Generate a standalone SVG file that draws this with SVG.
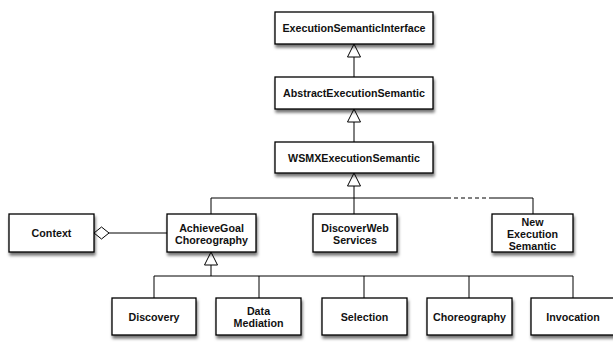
<svg xmlns="http://www.w3.org/2000/svg" width="613" height="342" viewBox="0 0 613 342">
  <defs>
    <filter id="shadow" x="-20%" y="-30%" width="140%" height="170%">
      <feDropShadow dx="1" dy="3" stdDeviation="1.8" flood-color="#000" flood-opacity="0.55"/>
    </filter>
  </defs>
  <style>
    .box { fill: #fff; stroke: #000; stroke-width: 1.3; filter: url(#shadow); }
    .lbl { font-family: "Liberation Sans", Arial, Helvetica, sans-serif; font-weight: bold; font-size: 10.7px; fill: #111; text-anchor: middle; }
    .edge { fill: none; stroke: #000; stroke-width: 1; }
    .dash { fill: none; stroke: #000; stroke-width: 1; stroke-dasharray: 4 3; }
    .head { fill: #fff; stroke: #000; stroke-width: 1; }
  </style>
  <rect width="613" height="342" fill="#fff"/>

  <g id="connectors">
    <!-- generalisation chain at the top -->
    <path class="edge" d="M354,77 V57"/>
    <path class="head" d="M354,44 L360.5,57 L347.5,57 Z"/>
    <path class="edge" d="M354,142 V122"/>
    <path class="head" d="M354,109 L360.5,122 L347.5,122 Z"/>
    <!-- WSMXExecutionSemantic subclasses -->
    <path class="edge" d="M354,198 V186"/>
    <path class="head" d="M354,173 L360.5,186 L347.5,186 Z"/>
    <path class="edge" d="M211,214 V198 H447"/>
    <path class="edge" d="M354,198 V214"/>
    <path class="dash" d="M447,198 H489"/>
    <path class="edge" d="M489,198 H533 V214"/>
    <!-- aggregation Context -> AchieveGoal -->
    <path class="edge" d="M109,233 H167"/>
    <path class="head" d="M94,233 L101.5,227 L109,233 L101.5,239 Z"/>
    <!-- AchieveGoal Choreography subclasses -->
    <path class="edge" d="M211,276 V265"/>
    <path class="head" d="M211,252 L217.5,265 L204.5,265 Z"/>
    <path class="edge" d="M154,298 V276 H573 V298"/>
    <path class="edge" d="M259,276 V298"/>
    <path class="edge" d="M364,276 V298"/>
    <path class="edge" d="M469,276 V298"/>
  </g>

  <g id="ExecutionSemanticInterface">
    <rect class="box" x="275" y="12" width="158" height="32"/>
    <text class="lbl" x="354" y="32">ExecutionSemanticInterface</text>
  </g>
  <g id="AbstractExecutionSemantic">
    <rect class="box" x="275" y="77" width="158" height="32"/>
    <text class="lbl" x="354" y="97">AbstractExecutionSemantic</text>
  </g>
  <g id="WSMXExecutionSemantic">
    <rect class="box" x="275" y="142" width="158" height="31"/>
    <text class="lbl" x="354" y="161.5">WSMXExecutionSemantic</text>
  </g>
  <g id="Context">
    <rect class="box" x="9" y="214" width="85" height="38"/>
    <text class="lbl" x="51.5" y="237">Context</text>
  </g>
  <g id="AchieveGoalChoreography">
    <rect class="box" x="167" y="214" width="89" height="38"/>
    <text class="lbl" x="211.5" y="231.5">AchieveGoal</text>
    <text class="lbl" x="211.5" y="243.5">Choreography</text>
  </g>
  <g id="DiscoverWebServices">
    <rect class="box" x="313" y="214" width="84" height="38"/>
    <text class="lbl" x="355" y="231.5">DiscoverWeb</text>
    <text class="lbl" x="355" y="243.5">Services</text>
  </g>
  <g id="NewExecutionSemantic">
    <rect class="box" x="492" y="214" width="81" height="38"/>
    <text class="lbl" x="532.5" y="225.5">New</text>
    <text class="lbl" x="532.5" y="237.5">Execution</text>
    <text class="lbl" x="532.5" y="249.5">Semantic</text>
  </g>
  <g id="Discovery">
    <rect class="box" x="112" y="298" width="84" height="37"/>
    <text class="lbl" x="154" y="320.5">Discovery</text>
  </g>
  <g id="DataMediation">
    <rect class="box" x="216" y="298" width="85" height="37"/>
    <text class="lbl" x="258.5" y="314.5">Data</text>
    <text class="lbl" x="258.5" y="326.5">Mediation</text>
  </g>
  <g id="Selection">
    <rect class="box" x="322" y="298" width="85" height="37"/>
    <text class="lbl" x="364.5" y="320.5">Selection</text>
  </g>
  <g id="Choreography">
    <rect class="box" x="427" y="298" width="85" height="37"/>
    <text class="lbl" x="469.5" y="320.5">Choreography</text>
  </g>
  <g id="Invocation">
    <rect class="box" x="531" y="298" width="85" height="37"/>
    <text class="lbl" x="573" y="320.5">Invocation</text>
  </g>
</svg>
